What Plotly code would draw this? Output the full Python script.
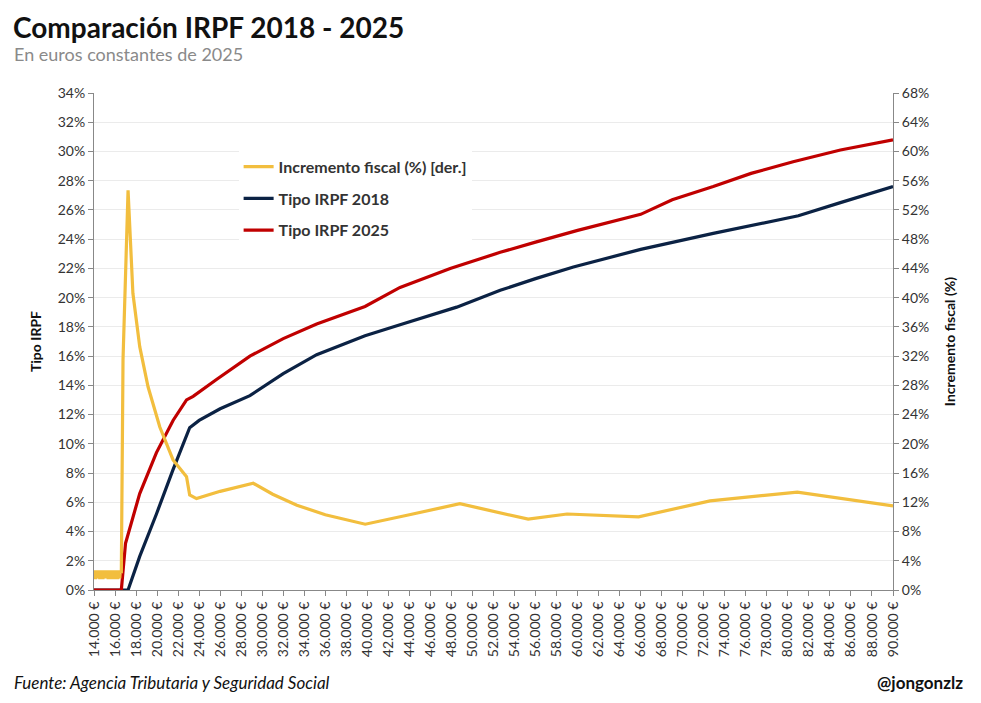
import plotly.graph_objects as go

# --- datos ---
renta_2025 = [14000, 16600, 17000, 18350, 19940, 21520, 22800, 23430, 25650, 28830, 32000,
              35180, 39780, 43110, 47880, 52640, 56000, 60000, 66000,
              69000, 72900, 76500, 80500, 85000, 90000]
tipo_2025 = [0, 0, 3.2, 6.6, 9.4, 11.6, 13.0, 13.25, 14.4, 16.0, 17.2,
             18.2, 19.4, 20.7, 22.0, 23.1, 23.8, 24.6, 25.7,
             26.7, 27.6, 28.5, 29.3, 30.1, 30.8]

renta_2018 = [14000, 17240, 18350, 19940, 21500, 23100, 24000, 26000, 28830, 32000, 35180,
              39780, 43110, 48500, 52640, 56000, 59600, 66000, 72900, 81000,
              85000, 90000]
tipo_2018 = [0, 0, 2.3, 5.2, 8.2, 11.1, 11.6, 12.4, 13.3, 14.8, 16.1,
             17.4, 18.15, 19.35, 20.5, 21.3, 22.1, 23.3, 24.4, 25.6,
             26.5, 27.6]

renta_incr = [14000, 14050, 14100, 14150, 14200, 14250, 14300, 14350, 14400, 14450,
              14500, 14550, 14600, 14650, 14700, 14750, 14800, 14850, 14900, 14950,
              15000, 15050, 15100, 15150, 15200, 15250, 15300, 15350, 15400, 15450,
              15500, 15550, 15600, 15650, 15700, 15750, 15800, 15850, 15900, 15950,
              16000, 16050, 16100, 16150, 16200, 16250, 16300, 16350, 16400, 16450,
              16500, 16600, 16760, 16920, 17240, 17700,
              18350, 19140, 20260, 21520, 22800, 23100, 23750, 26000, 29150, 31000,
              33300, 36000, 39800, 44000, 48800, 55300, 59000, 65800, 72600, 80900, 90000]
incremento = [2.6, 1.6, 2.7, 1.5, 2.6, 1.7, 2.7, 1.6, 2.5, 1.6,
              2.7, 1.5, 2.6, 1.7, 2.7, 1.6, 2.6, 1.5, 2.7, 1.6,
              2.6, 1.7, 2.7, 1.6, 2.6, 1.7, 2.6, 1.5, 2.7, 1.6,
              2.6, 1.6, 2.7, 1.5, 2.6, 1.7, 2.7, 1.6, 2.6, 1.5,
              2.7, 1.6, 2.6, 1.7, 2.7, 1.5, 2.6, 1.6, 2.7, 1.6,
              2.6, 2.3, 31.5, 40.6, 54.7, 40.6,
              33.3, 27.8, 22.3, 17.8, 15.5, 13.0, 12.5, 13.5, 14.6, 13.1,
              11.6, 10.3, 9.0, 10.3, 11.8, 9.7, 10.4, 10.0, 12.2, 13.4, 11.5]

ticks_x = list(range(14000, 90001, 2000))
etiquetas_x = [f"{v // 1000}.000 €" for v in ticks_x]

AMARILLO = "#F2BE3E"
AZUL = "#0B2244"
ROJO = "#C00000"
FUENTE = "Lato"

fig = go.Figure()

fig.add_trace(go.Scatter(
    x=renta_incr, y=incremento, name="<b>Incremento fiscal (%) [der.]</b>",
    mode="lines", line=dict(color=AMARILLO, width=3.2), yaxis="y2", legendgroup="a"
))
fig.add_trace(go.Scatter(
    x=renta_2018, y=tipo_2018, name="<b>Tipo IRPF 2018</b>",
    mode="lines", line=dict(color=AZUL, width=3.2), legendgroup="b"
))
fig.add_trace(go.Scatter(
    x=renta_2025, y=tipo_2025, name="<b>Tipo IRPF 2025</b>",
    mode="lines", line=dict(color=ROJO, width=3.2), legendgroup="c"
))

eje = dict(showline=True, linecolor="#888888", linewidth=1, ticks="outside",
           tickcolor="#888888", ticklen=5,
           tickfont=dict(family=FUENTE, size=14, color="#333333"))

# la página deja 8 px de margen alrededor del gráfico
fig.update_layout(
    width=965, height=687,
    paper_bgcolor="white", plot_bgcolor="white",
    margin=dict(l=86, r=80, t=85, b=105),
    font=dict(family=FUENTE, color="#333333"),
    title=dict(text="<b>Comparación IRPF 2018 - 2025</b>",
               font=dict(family=FUENTE, size=28, color="#111111"),
               xref="container", yref="container", x=5 / 965, xanchor="left",
               y=1 - 20 / 687, yanchor="middle"),
    showlegend=True,
    legend=dict(x=0.181, y=0.886, xanchor="left", yanchor="top",
                bgcolor="white", tracegroupgap=8,
                font=dict(family=FUENTE, size=16, color="#333333")),
    xaxis=dict(eje, range=[14000, 90000], tickvals=ticks_x, ticktext=etiquetas_x,
               tickangle=-90, showgrid=False, zeroline=False),
    yaxis=dict(eje, range=[0, 34], dtick=2, ticksuffix="%", showgrid=True,
               gridcolor="#ebebeb", zeroline=False,
               title=dict(text="<b>Tipo IRPF</b>", standoff=12,
                          font=dict(family=FUENTE, size=14, color="#111111"))),
    yaxis2=dict(eje, range=[0, 68], dtick=4, ticksuffix="%", overlaying="y", side="right",
                showgrid=False, zeroline=False,
                title=dict(text="<b>Incremento fiscal (%)</b>", standoff=16,
                           font=dict(family=FUENTE, size=14, color="#111111"))),
)

fig.add_annotation(text="En euros constantes de 2025", xref="paper", yref="paper",
                   x=-0.103, y=1.078, xanchor="left", yanchor="middle", showarrow=False,
                   font=dict(family=FUENTE, size=18, color="#8a8a8a"))
fig.add_annotation(text="<i>Fuente: Agencia Tributaria y Seguridad Social</i>", xref="paper",
                   yref="paper", x=-0.103, y=-0.187, xanchor="left", yanchor="middle",
                   showarrow=False, font=dict(family=FUENTE, size=17, color="#111111"))
fig.add_annotation(text="<b>@jongonzlz</b>", xref="paper", yref="paper",
                   x=1.09, y=-0.187, xanchor="right", yanchor="middle",
                   showarrow=False, font=dict(family=FUENTE, size=17, color="#111111"))

fig.write_html("out.html")
